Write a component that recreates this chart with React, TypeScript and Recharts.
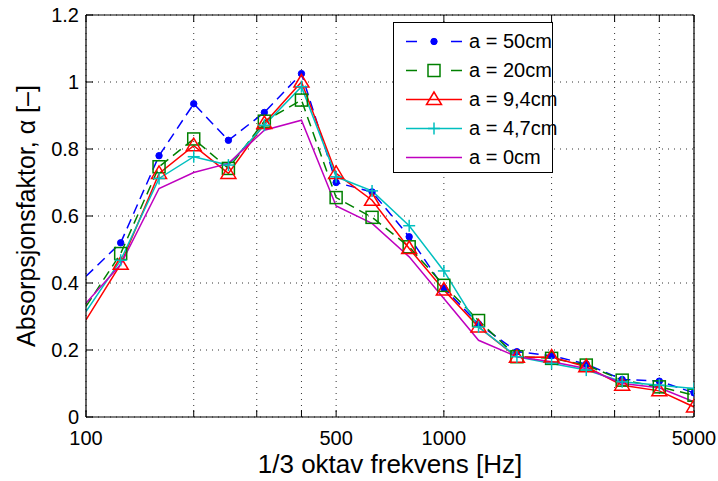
import React from 'react';
import { LineChart, Line, XAxis, YAxis, CartesianGrid } from 'recharts';

const freqs = [100, 125, 160, 200, 250, 315, 400, 500, 630, 800, 1000, 1250, 1600, 2000, 2500, 3150, 4000, 5000];
const a50 = [0.42, 0.52, 0.78, 0.935, 0.826, 0.909, 1.025, 0.70, 0.672, 0.538, 0.385, 0.278, 0.195, 0.183, 0.158, 0.112, 0.107, 0.072];
const a20 = [0.33, 0.488, 0.747, 0.83, 0.742, 0.883, 0.946, 0.655, 0.596, 0.508, 0.393, 0.288, 0.18, 0.175, 0.155, 0.11, 0.09, 0.065];
const a94 = [0.29, 0.456, 0.727, 0.81, 0.727, 0.876, 1.0, 0.727, 0.647, 0.503, 0.379, 0.269, 0.178, 0.179, 0.15, 0.095, 0.078, 0.03];
const a47 = [0.315, 0.468, 0.712, 0.777, 0.752, 0.871, 0.986, 0.717, 0.675, 0.571, 0.436, 0.269, 0.18, 0.16, 0.14, 0.105, 0.095, 0.085];
const a0 = [0.34, 0.455, 0.682, 0.73, 0.757, 0.856, 0.886, 0.63, 0.578, 0.478, 0.354, 0.229, 0.18, 0.165, 0.145, 0.10, 0.087, 0.045];

const xTicks = [100, 200, 300, 400, 500, 1000, 2000, 3000, 4000, 5000];
const xTickLabels = [100, 500, 1000, 5000];
const yTicks = [0, 0.2, 0.4, 0.6, 0.8, 1, 1.2];
const seriesNames = ['a = 50cm', 'a = 20cm', 'a = 9,4cm', 'a = 4,7cm', 'a = 0cm'];
const xLabel = '1/3 oktav frekvens [Hz]';
const yLabel = 'Absorpsjonsfaktor, α [–]';

const data = freqs.map((f, i) => ({ f, a50: a50[i], a20: a20[i], a94: a94[i], a47: a47[i], a0: a0[i] }));

type Marker = 'dot' | 'square' | 'triangle' | 'plus' | 'none';
const series: { key: string; name: string; color: string; dashed: boolean; marker: Marker }[] = [
  { key: 'a50', name: seriesNames[0], color: '#0000ff', dashed: true, marker: 'dot' },
  { key: 'a20', name: seriesNames[1], color: '#008000', dashed: true, marker: 'square' },
  { key: 'a94', name: seriesNames[2], color: '#ff0000', dashed: false, marker: 'triangle' },
  { key: 'a47', name: seriesNames[3], color: '#00bfbf', dashed: false, marker: 'plus' },
  { key: 'a0', name: seriesNames[4], color: '#bf00bf', dashed: false, marker: 'none' },
];

function markerShape(marker: Marker, color: string, cx: number, cy: number, key?: any) {
  switch (marker) {
    case 'dot':
      return <circle key={key} cx={cx} cy={cy} r={3.2} fill={color} stroke={color} />;
    case 'square':
      return <rect key={key} x={cx - 6} y={cy - 6} width={12} height={12} fill="none" stroke={color} strokeWidth={1.5} />;
    case 'triangle':
      return (
        <polygon
          key={key}
          points={`${cx},${cy - 7.5} ${cx - 7.5},${cy + 5} ${cx + 7.5},${cy + 5}`}
          fill="none"
          stroke={color}
          strokeWidth={1.5}
        />
      );
    case 'plus':
      return (
        <g key={key}>
          <line x1={cx - 6} x2={cx + 6} y1={cy} y2={cy} stroke={color} strokeWidth={1.5} />
          <line x1={cx} x2={cx} y1={cy - 6} y2={cy + 6} stroke={color} strokeWidth={1.5} />
        </g>
      );
    default:
      return null;
  }
}

const FONT = '"Liberation Sans", Arial, Helvetica, sans-serif';

function LegendBox() {
  return (
    <div
      style={{
        position: 'absolute',
        left: 393,
        top: 22,
        width: 158,
        height: 149,
        border: '1.5px solid #000',
        background: '#fff',
        fontFamily: FONT,
      }}
    >
      {series.map((s, i) => (
        <div key={s.key} style={{ position: 'absolute', left: 0, top: 4 + i * 29, height: 29, width: 158 }}>
          <svg width={70} height={29} style={{ position: 'absolute', left: 0, top: 0 }}>
            <line
              x1={12}
              x2={68}
              y1={14.5}
              y2={14.5}
              stroke={s.color}
              strokeWidth={1.5}
              strokeDasharray={s.dashed ? '11 34' : undefined}
            />
            {markerShape(s.marker, s.color, 40, 14.5)}
          </svg>
          <span style={{ position: 'absolute', left: 75, top: 2, fontSize: 20, lineHeight: '25px', color: '#000', whiteSpace: 'nowrap' }}>
            {s.name}
          </span>
        </div>
      ))}
    </div>
  );
}

export default function App() {
  return (
    <div style={{ position: 'absolute', left: 0, top: 0, width: 718, height: 481, background: '#fff', fontFamily: FONT }}>
      <LineChart width={718} height={481} data={data} margin={{ top: 0, right: 0, bottom: 0, left: 0 }}>
        <CartesianGrid stroke="#333" strokeDasharray="1 5" strokeWidth={1} />
        <XAxis
          dataKey="f"
          type="number"
          scale="log"
          domain={[100, 5000]}
          allowDataOverflow
          ticks={xTicks}
          interval={0}
          height={64}
          tickSize={-7}
          tickMargin={21}
          tickFormatter={(v: number) => (xTickLabels.includes(v) ? String(v) : '')}
          tick={{ fill: '#000', fontSize: 20 }}
          axisLine={{ stroke: '#000', strokeWidth: 1.2 }}
          tickLine={{ stroke: '#000' }}
          label={{ value: xLabel, position: 'insideBottom', offset: 8, fill: '#000', fontSize: 26 }}
        />
        <XAxis
          xAxisId="top"
          orientation="top"
          dataKey="f"
          type="number"
          scale="log"
          domain={[100, 5000]}
          allowDataOverflow
          ticks={xTicks}
          interval={0}
          height={15}
          tickSize={-7}
          tickFormatter={() => ''}
          axisLine={{ stroke: '#000', strokeWidth: 1.2 }}
          tickLine={{ stroke: '#000' }}
        />
        <YAxis
          type="number"
          domain={[0, 1.2]}
          ticks={yTicks}
          interval={0}
          width={86}
          tickSize={-7}
          tickMargin={14}
          tick={{ fill: '#000', fontSize: 20 }}
          axisLine={{ stroke: '#000', strokeWidth: 1.2 }}
          tickLine={{ stroke: '#000' }}
          label={{ value: yLabel, angle: -90, position: 'insideLeft', offset: 26, fill: '#000', fontSize: 25, style: { textAnchor: 'middle' } }}
        />
        <YAxis
          yAxisId="right"
          orientation="right"
          type="number"
          domain={[0, 1.2]}
          ticks={yTicks}
          interval={0}
          width={24}
          tickSize={-7}
          tickFormatter={() => ''}
          axisLine={{ stroke: '#000', strokeWidth: 1.2 }}
          tickLine={{ stroke: '#000' }}
        />
        {series.map((s) => (
          <Line
            key={s.key}
            dataKey={s.key}
            name={s.name}
            type="linear"
            stroke={s.color}
            strokeWidth={1.5}
            strokeDasharray={s.dashed ? '10 6' : undefined}
            isAnimationActive={false}
            activeDot={false}
            dot={
              s.marker === 'none'
                ? false
                : (p: any) =>
                    p.index === 0 ? (
                      <g key={`${s.key}-${p.index}`} />
                    ) : (
                      markerShape(s.marker, s.color, p.cx, p.cy, `${s.key}-${p.index}`)
                    )
            }
          />
        ))}
      </LineChart>
      <LegendBox />
    </div>
  );
}
